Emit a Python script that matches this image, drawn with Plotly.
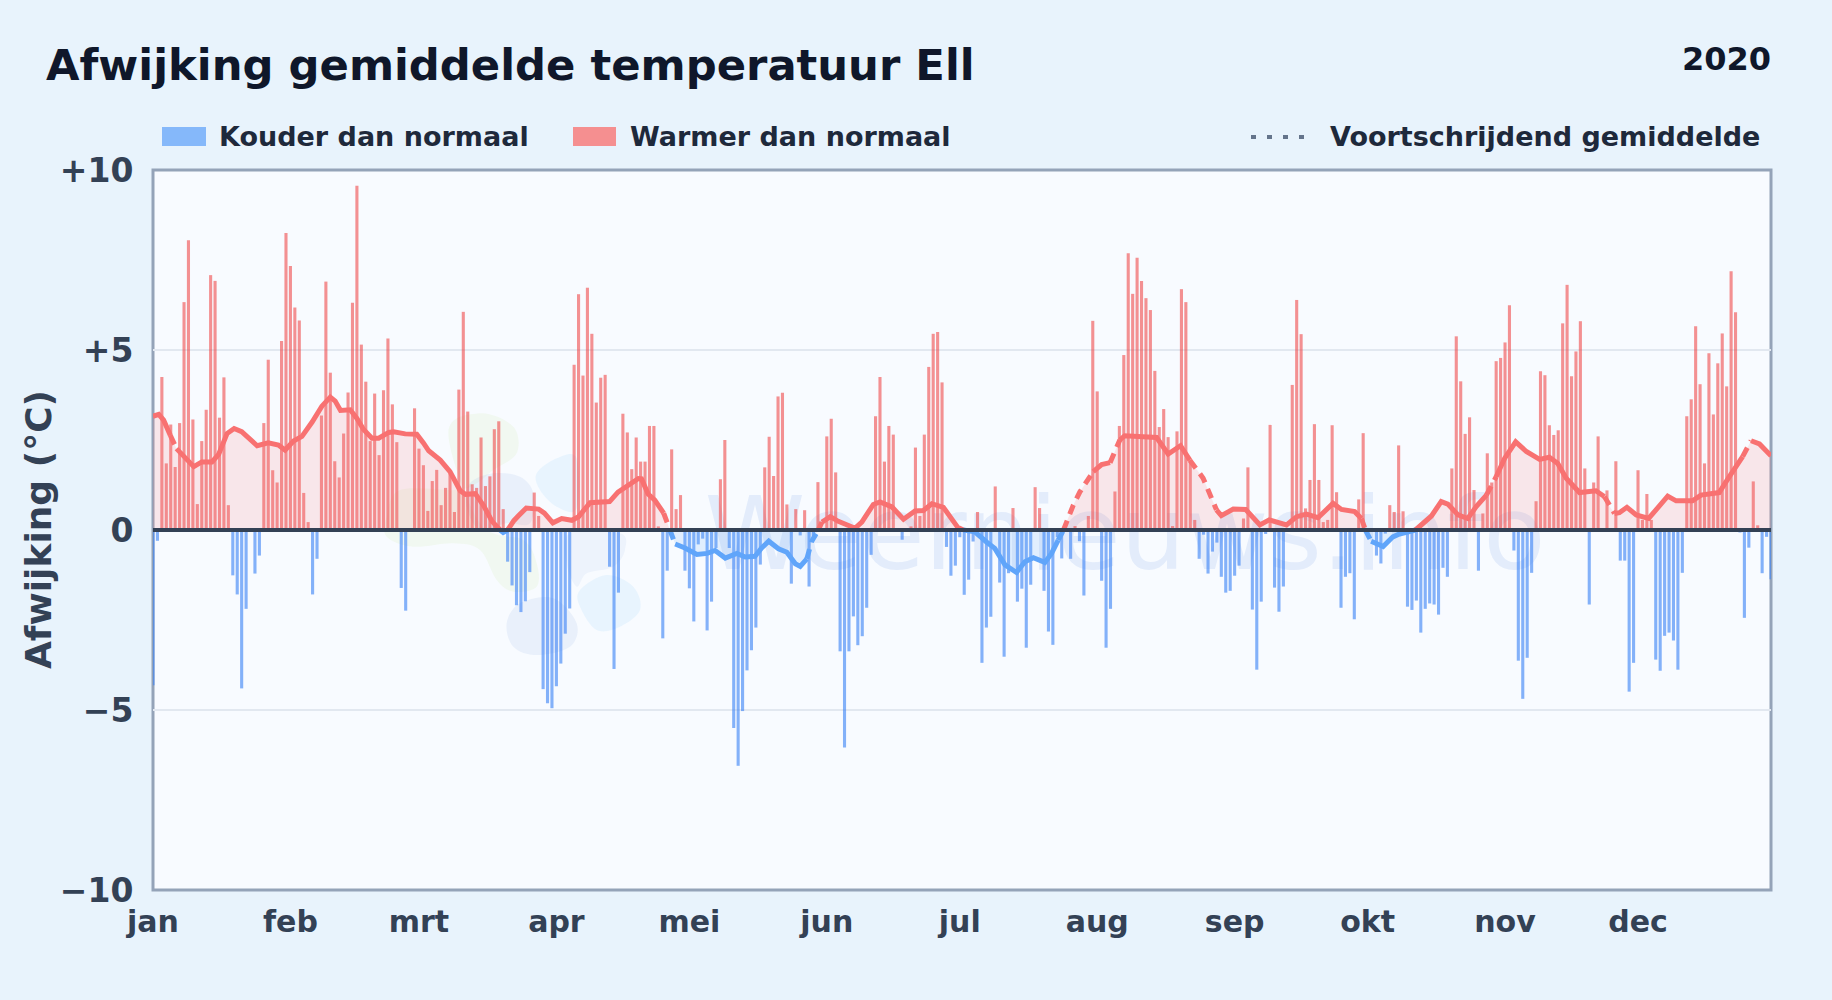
import plotly.graph_objects as go

# ---- data ----
month_labels = ["jan", "feb", "mrt", "apr", "mei", "jun", "jul", "aug", "sep", "okt", "nov", "dec"]
month_lengths = [31, 29, 31, 30, 31, 30, 31, 31, 30, 31, 30, 31]
jan = [-4.31,-0.3,4.25,1.85,2.93,1.75,2.97,6.33,8.05,3.07,0.72,2.47,3.34,7.08,6.92,3.12,4.24,0.69,-1.26,-1.79,-4.4,-2.19,0,-1.21,-0.71,2.97,4.73,1.66,1.32,5.25,8.25]
feb = [7.33,6.18,5.82,1.03,0.22,-1.79,-0.8,3.18,6.9,4.37,1.91,1.46,2.68,3.82,6.31,9.56,5.15,4.12,2.47,3.79,2.08,3.88,5.32,3.49,2.44,-1.61,-2.24,0,3.38]
mrt = [2.26,1.8,0.53,1.36,1.67,0.69,1.17,1.57,0.5,3.9,6.06,3.29,1.27,1.17,2.57,1.22,1.49,2.8,3.02,0.58,-0.88,-1.54,-2.09,-2.28,-1.98,-1.17,1.04,0.39,-4.42,-4.81,-4.95]
apr = [-4.34,-3.71,-2.88,-2.18,4.59,6.55,4.29,6.73,5.45,3.54,4.23,4.31,-1.02,-3.86,-1.74,3.23,2.71,1.69,2.57,1.9,1.9,2.89,2.89,0.1,-3.01,-1.13,2.24,0.58,0.97,-1.13]
mei = [-1.62,-2.54,-0.4,-0.24,-2.79,-1.99,-0.5,1.41,2.5,-0.5,-5.5,-6.55,-5.03,-3.9,-3.34,-2.71,-0.96,1.74,2.59,1.5,3.71,3.81,0.71,-1.49,0.58,-0.15,0.55,-1.57,-0.2,1.33,0]
jun = [2.6,3.09,1.6,-3.37,-6.04,-3.37,-2.4,-3.2,-2.95,-2.16,-0.69,3.16,4.25,1.9,2.89,2.65,0,-0.27,0,0.1,2.29,0.39,2.65,4.53,5.45,5.5,4.1,-0.47,-1.27,-0.99]
jul = [-0.2,-1.8,-1.38,-0.32,0.5,-3.69,-2.71,-2.41,1.21,-1.46,-3.52,-1.2,0.61,-1.99,-1.63,-3.27,-1.52,1.19,0.61,-1.69,-2.82,-3.19,-0.2,-0.79,0,-0.8,0.11,-0.31,-1.82,0.39,5.81]
aug = [3.85,-1.41,-3.27,-2.19,1.07,2.89,4.86,7.69,6.56,7.56,6.92,6.44,6.11,4.42,2.86,3.36,2.58,0.11,2.74,6.69,6.33,1.94,0.28,-0.8,-0.13,-1.21,-0.6,-0.35,-1.3,-1.74,-1.69]
sep = [-1.27,-0.99,0.32,1.74,-2.21,-3.88,-1.99,-0.11,2.92,-1.6,-2.27,-1.57,0,4.03,6.39,5.44,0.6,1.39,2.94,1.39,0.22,0.28,2.91,1.05,-2.16,-1.3,-1.2,-2.48,0.85,2.69]
okt = [-0.2,0,-0.71,-0.93,-0.1,0.69,0.5,2.35,0.52,-2.13,-2.22,-1.96,-2.85,-2.19,-2.04,-2.07,-2.35,-1.05,-1.3,1.71,5.38,4.13,2.67,3.13,1.11,-1.13,0.46,2.13,1.32,4.69,4.78]
nov = [5.21,6.24,-0.57,-3.63,-4.69,-3.55,-1.19,0.8,4.41,4.3,2.91,2.64,2.77,5.74,6.81,4.27,4.96,5.8,1.71,-2.07,1.32,2.6,0,1.1,0,1.91,-0.85,-0.85,-4.49,-3.69]
dec = [1.66,0.28,1.0,0.28,-3.6,-3.91,-2.94,-2.85,-3.07,-3.88,-1.19,3.16,3.63,5.66,4.05,1.85,4.91,3.21,4.63,5.46,3.99,7.19,6.05,-0.07,-2.44,-0.49,1.35,0.13,-1.2,-0.19,-1.37]

# moving average, read as (day of year, value) pairs
ma_days = [0,1.3,2.4,3.9,4.7,5.3,6.9,9.2,11,13.3,14.8,16.7,18.3,20,23.5,26,28.3,29.8,31.7,33.6,35.9,38.1,40,41.1,42.3,44.5,46,47.5,49.4,50.9,53.2,54.3,56.9,59.5,61,62.2,64.8,67,69.3,70.5,72.7,74.6,76.5,78.3,79,80,81.4,82.5,84.2,87,88.3,90.2,92.2,94.5,96,98.6,103,104.9,106.5,109.5,110.2,111.7,113.2,115.2,116.6,117.8,120,122.7,125,126.8,129.1,131.7,133.6,135.8,137.3,138.9,141.1,143,144.9,146,147.5,148.6,150.1,150.9,152.8,154.6,156.9,158.4,159.9,162.5,164,166.7,169.3,171.9,173.8,175.7,178.3,180.2,181.5,182.8,185.4,188.1,189.9,192.2,194.8,196.7,198.6,201.2,202.7,204.2,205.4,207.6,209.1,212.1,214,215.9,218.1,219.2,226.4,229,231.8,233.9,236.9,239.9,241,243.7,246.5,249.7,251.8,255.7,258,260.2,262.8,266.2,268.1,271.1,272.6,273.5,274.8,277.5,279.7,281.2,284.8,288.4,290.6,292.1,294.4,296.6,298.5,300.8,303,304.9,307.4,309.8,312.8,315,316.9,318.8,321.8,325.5,327.4,328.6,329.7,330.8,332.5,334.6,337.4,339.8,341.7,343.6,347.3,349.2,353.3,355.6,358.6,360.5,362.4,365]
ma_vals = [3.16,3.21,3.05,2.63,2.42,2.26,2.04,1.76,1.89,1.89,2.1,2.68,2.82,2.73,2.34,2.42,2.36,2.22,2.47,2.6,3.0,3.44,3.69,3.58,3.32,3.34,3.1,2.79,2.55,2.55,2.71,2.73,2.67,2.66,2.42,2.2,1.94,1.62,1.09,0.99,1.01,0.67,0.24,0,-0.07,0,0.26,0.4,0.61,0.58,0.47,0.2,0.32,0.27,0.37,0.76,0.79,1.05,1.19,1.43,1.42,1.0,0.83,0.47,0,-0.39,-0.5,-0.68,-0.65,-0.57,-0.78,-0.65,-0.75,-0.73,-0.5,-0.31,-0.52,-0.62,-0.94,-1.01,-0.8,-0.31,0,0.22,0.37,0.24,0.13,0.05,0.22,0.71,0.78,0.64,0.3,0.53,0.54,0.73,0.63,0.32,0.08,0,-0.05,-0.34,-0.51,-0.97,-1.18,-0.88,-0.77,-0.9,-0.65,-0.28,0,0.69,1.06,1.62,1.82,1.87,2.5,2.62,2.57,2.11,2.34,1.94,1.44,0.56,0.4,0.58,0.57,0.14,0.28,0.14,0.37,0.44,0.34,0.74,0.57,0.51,0.32,0,-0.31,-0.46,-0.19,-0.11,0,0.39,0.79,0.72,0.42,0.32,0.65,0.97,1.48,1.99,2.45,2.18,1.96,2.02,1.85,1.44,1.04,1.09,0.93,0.65,0.46,0.48,0.63,0.42,0.32,0.69,0.94,0.81,0.81,0.97,1.04,1.48,2.04,2.48,2.39,2.06]
ma_dashed_spans = [(3.9,5.3),(115,117.8),(147.5,150.9),(204.2,212.1),(215.9,218.1),(233.9,239.9),(273,274.8),(300.8,303),(327.4,329.7),(358.6,360.5)]

y_ticks = [10, 5, 0, -5, -10]
y_labels = ["+10", "+5", "0", "\u22125", "\u221210"]

values = jan + feb + mrt + apr + mei + jun + jul + aug + sep + okt + nov + dec
days = list(range(len(values)))
month_starts = [sum(month_lengths[:i]) for i in range(12)]

# ---- page geometry ----
W, H = 1832, 1000
L, R, T, B = 153, 1771, 170, 890
FONT = "DejaVu Sans"
def px(x): return (x - L) / (R - L)
def py(y): return (B - y) / (B - T)

def blob(points):
    """Closed smooth path through zoomed logo outline points."""
    pts = [(px(380 + a / 3), py(390 + b / 3)) for a, b in points]
    n = len(pts)
    d = f"M{pts[0][0]:.5f},{pts[0][1]:.5f}"
    for i in range(n):
        p0, p1, p2, p3 = pts[i - 1], pts[i], pts[(i + 1) % n], pts[(i + 2) % n]
        c1 = (p1[0] + (p2[0] - p0[0]) / 6, p1[1] + (p2[1] - p0[1]) / 6)
        c2 = (p2[0] - (p3[0] - p1[0]) / 6, p2[1] - (p3[1] - p1[1]) / 6)
        d += f" C{c1[0]:.5f},{c1[1]:.5f} {c2[0]:.5f},{c2[1]:.5f} {p2[0]:.5f},{p2[1]:.5f}"
    return d + " Z"

logo = [
    ([(205,130),(300,70),(400,110),(410,190),(340,240),(290,280),(230,300),(60,300),(20,380),(20,440),(100,470),(220,460),(300,480),(350,570),(400,605),(470,590),(470,520),(430,450),(300,400)], "rgba(190,225,120,0.10)"),
    ([(270,280),(340,250),(420,260),(460,310),(450,400),(380,400),(300,420),(260,350)], "rgba(110,150,220,0.10)"),
    ([(570,430),(720,430),(735,480),(700,530),(620,550),(590,590),(560,520)], "rgba(110,150,220,0.08)"),
    ([(470,250),(530,205),(590,205),(590,355),(530,350),(480,300)], "rgba(125,200,250,0.12)"),
    ([(600,600),(680,555),(760,590),(780,660),(720,710),(650,720),(600,650)], "rgba(125,200,250,0.12)"),
    ([(380,700),(420,640),(520,625),(590,700),(570,770),(470,795),(400,770)], "rgba(110,150,220,0.10)"),
]

fig = go.Figure()

# filled area under the moving average
fig.add_trace(go.Scatter(x=ma_days, y=[max(v, 0) for v in ma_vals], mode="none", fill="tozeroy",
                         fillcolor="rgba(248,113,113,0.15)", hoverinfo="skip"))
fig.add_trace(go.Scatter(x=ma_days, y=[min(v, 0) for v in ma_vals], mode="none", fill="tozeroy",
                         fillcolor="rgba(96,165,250,0.15)", hoverinfo="skip"))

# daily bars
warm_x = [d for d, v in zip(days, values) if v > 0]
warm_y = [v for v in values if v > 0]
cold_x = [d for d, v in zip(days, values) if v < 0]
cold_y = [v for v in values if v < 0]
fig.add_trace(go.Bar(x=cold_x, y=cold_y, width=0.7, name="Kouder dan normaal", cliponaxis=False,
                     marker=dict(color="rgba(59,130,246,0.62)", line_width=0)))
fig.add_trace(go.Bar(x=warm_x, y=warm_y, width=0.7, name="Warmer dan normaal", cliponaxis=False,
                     marker=dict(color="rgba(239,68,68,0.58)", line_width=0)))

# moving average split into solid / dashed and warm / cold stretches
def is_dashed(d):
    return any(a <= d <= b for a, b in ma_dashed_spans)

run = None
runs = []
for i in range(len(ma_days) - 1):
    mid = (ma_days[i] + ma_days[i + 1]) / 2
    warm = (ma_vals[i] + ma_vals[i + 1]) >= 0
    key = (warm, is_dashed(mid))
    if run is None or run[0] != key:
        run = (key, [ma_days[i]], [ma_vals[i]])
        runs.append(run)
    run[1].append(ma_days[i + 1])
    run[2].append(ma_vals[i + 1])
for (warm, dashed), xs, ys in runs:
    fig.add_trace(go.Scatter(x=xs, y=ys, mode="lines", name="Voortschrijdend gemiddelde",
                             line=dict(color="#f87171" if warm else "#60a5fa", width=5,
                                       dash="10px,7px" if dashed else "solid")))

shapes = [dict(type="path", path=blob(p), xref="paper", yref="paper", fillcolor=c,
               line_width=0, layer="below") for p, c in logo]
shapes.append(dict(type="rect", xref="paper", yref="paper", x0=px(600), x1=px(1650), y0=py(436), y1=py(616),
                   line_width=0, fillcolor="rgba(0,0,0,0)", layer="below",
                   label=dict(text="Weernieuws.info", textposition="middle center",
                              font=dict(family=FONT, size=102, color="rgba(147,180,235,0.2)"))))
shapes.append(dict(type="rect", xref="paper", yref="paper", x0=0, x1=1, y0=0, y1=1, layer="below",
                   fillcolor="rgba(0,0,0,0)", line=dict(color="#94a3b8", width=3)))
shapes.append(dict(type="line", xref="paper", yref="y", x0=0, x1=1, y0=0, y1=0, layer="above",
                   line=dict(color="#334155", width=4)))
# legend keys
shapes.append(dict(type="rect", xref="paper", yref="paper", x0=px(162), x1=px(206), y0=py(127), y1=py(146),
                   fillcolor="#85b8fa", line_width=0))
shapes.append(dict(type="rect", xref="paper", yref="paper", x0=px(573), x1=px(616), y0=py(127), y1=py(146),
                   fillcolor="#f58f90", line_width=0))
shapes.append(dict(type="line", xref="paper", yref="paper", x0=px(1251), x1=px(1310), y0=py(137), y1=py(137),
                   line=dict(color="#64748b", width=4, dash="5px,11px")))

def text(t, x, y, size, color, anchor="left", angle=0):
    return dict(text=f"<b>{t}</b>", xref="paper", yref="paper", x=px(x), y=py(y), xanchor=anchor, yanchor="middle",
                showarrow=False, textangle=angle, font=dict(family=FONT, size=size, color=color))

annotations = [
    text("Afwijking gemiddelde temperatuur Ell", 44, 65, 43.3, "#0f172a"),
    text("2020", 1773, 59, 32, "#0f172a", "right"),
    text("Kouder dan normaal", 217, 137, 27, "#1e293b"),
    text("Warmer dan normaal", 628, 137, 27, "#1e293b"),
    text("Voortschrijdend gemiddelde", 1762, 137, 27, "#1e293b", "right"),
    text("Afwijking (\u00b0C)", 38, 530, 36, "#334155", "center", -90),
]

x_font = dict(family=FONT, size=30, color="#334155", weight="bold")
y_font = dict(family=FONT, size=33, color="#334155", weight="bold")
fig.update_layout(
    width=W, height=H, margin=dict(l=L, r=W - R, t=T, b=H - B),
    paper_bgcolor="#e8f3fc", plot_bgcolor="#f8fbff",
    barmode="overlay", showlegend=False, shapes=shapes, annotations=annotations,
    xaxis=dict(range=[0, 365], tickmode="array", tickvals=month_starts, ticktext=month_labels,
               tickfont=x_font, showgrid=False, zeroline=False, showline=False,
               ticks="outside", ticklen=5, tickcolor="rgba(0,0,0,0)"),
    yaxis=dict(range=[-10, 10], tickmode="array", tickvals=y_ticks, ticktext=y_labels,
               tickfont=y_font, showgrid=True, gridcolor="#e2e8f0", gridwidth=2, zeroline=False,
               showline=False, ticks="outside", ticklen=12, tickcolor="rgba(0,0,0,0)"),
)

fig.write_html("out.html", config=dict(displayModeBar=False),
               post_script="document.body.style.margin='0';document.body.style.background='#e8f3fc';")
